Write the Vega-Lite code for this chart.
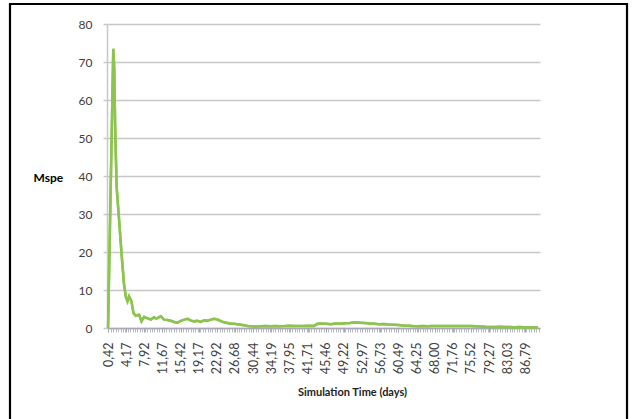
{
  "$schema": "https://vega.github.io/schema/vega-lite/v6.json",
  "autosize": {"type": "none"},
  "padding": {"left": 10, "top": 4, "right": 8, "bottom": 0},
  "width": 617,
  "height": 420,
  "background": "white",
  "config": {
    "view": {"stroke": "black", "strokeWidth": 2.2},
    "font": "Lato"
  },
  "data": {
    "values": [
      {"day": 0.42, "mspe": 0}, {"day": 1.5, "mspe": 73.5}, {"day": 1.7, "mspe": 68}, {"day": 1.9, "mspe": 52},
      {"day": 2.2, "mspe": 37}, {"day": 2.7, "mspe": 28.5}, {"day": 3.2, "mspe": 19.7}, {"day": 3.7, "mspe": 11.8},
      {"day": 4.08, "mspe": 8.3}, {"day": 4.44, "mspe": 7.0}, {"day": 4.77, "mspe": 8.3}, {"day": 5.26, "mspe": 7.0},
      {"day": 5.68, "mspe": 3.9}, {"day": 6.15, "mspe": 3.2}, {"day": 6.5, "mspe": 3.4}, {"day": 6.84, "mspe": 3.5},
      {"day": 7.33, "mspe": 1.75}, {"day": 7.87, "mspe": 2.9}, {"day": 8.2, "mspe": 2.7}, {"day": 8.58, "mspe": 2.6},
      {"day": 9.26, "mspe": 2.2}, {"day": 9.94, "mspe": 2.8}, {"day": 10.3, "mspe": 2.5}, {"day": 10.65, "mspe": 2.6},
      {"day": 11.0, "mspe": 2.9}, {"day": 11.33, "mspe": 3.1}, {"day": 12.0, "mspe": 2.2}, {"day": 12.7, "mspe": 2.1},
      {"day": 13.4, "mspe": 1.9}, {"day": 14.1, "mspe": 1.6}, {"day": 14.8, "mspe": 1.4}, {"day": 15.5, "mspe": 1.9},
      {"day": 16.2, "mspe": 2.2}, {"day": 16.9, "mspe": 2.4}, {"day": 17.5, "mspe": 2.0}, {"day": 18.2, "mspe": 1.75},
      {"day": 18.9, "mspe": 1.9}, {"day": 19.6, "mspe": 1.6}, {"day": 20.3, "mspe": 2.0}, {"day": 21.0, "mspe": 1.9},
      {"day": 21.7, "mspe": 2.2}, {"day": 22.4, "mspe": 2.45}, {"day": 23.1, "mspe": 2.2}, {"day": 23.8, "mspe": 1.8},
      {"day": 24.4, "mspe": 1.5}, {"day": 25.1, "mspe": 1.3}, {"day": 25.8, "mspe": 1.1}, {"day": 26.5, "mspe": 1.1},
      {"day": 27.2, "mspe": 1.0}, {"day": 27.9, "mspe": 0.85}, {"day": 28.6, "mspe": 0.7}, {"day": 29.3, "mspe": 0.55},
      {"day": 30.0, "mspe": 0.45}, {"day": 31, "mspe": 0.4}, {"day": 32, "mspe": 0.45}, {"day": 33, "mspe": 0.5},
      {"day": 34, "mspe": 0.45}, {"day": 35, "mspe": 0.55}, {"day": 36, "mspe": 0.45}, {"day": 37, "mspe": 0.5},
      {"day": 38, "mspe": 0.6}, {"day": 39, "mspe": 0.5}, {"day": 40, "mspe": 0.55}, {"day": 41, "mspe": 0.5},
      {"day": 42, "mspe": 0.6}, {"day": 43, "mspe": 0.55}, {"day": 43.8, "mspe": 1.1}, {"day": 44.5, "mspe": 1.2},
      {"day": 45.5, "mspe": 1.1}, {"day": 46.5, "mspe": 1.0}, {"day": 47.5, "mspe": 1.2}, {"day": 48.5, "mspe": 1.1},
      {"day": 49.5, "mspe": 1.25}, {"day": 50.5, "mspe": 1.3}, {"day": 51.5, "mspe": 1.5}, {"day": 52.5, "mspe": 1.4},
      {"day": 53.5, "mspe": 1.3}, {"day": 54.5, "mspe": 1.2}, {"day": 55.5, "mspe": 1.1}, {"day": 56.5, "mspe": 1.0},
      {"day": 57.5, "mspe": 1.05}, {"day": 58.5, "mspe": 0.9}, {"day": 59.5, "mspe": 0.85}, {"day": 60.5, "mspe": 0.8},
      {"day": 61.5, "mspe": 0.65}, {"day": 62.5, "mspe": 0.6}, {"day": 63.5, "mspe": 0.5}, {"day": 64.5, "mspe": 0.45},
      {"day": 65.5, "mspe": 0.5}, {"day": 66.5, "mspe": 0.45}, {"day": 67.5, "mspe": 0.5}, {"day": 68.5, "mspe": 0.55},
      {"day": 69.5, "mspe": 0.5}, {"day": 70.5, "mspe": 0.5}, {"day": 71.5, "mspe": 0.55}, {"day": 72.5, "mspe": 0.5},
      {"day": 73.5, "mspe": 0.55}, {"day": 74.5, "mspe": 0.5}, {"day": 75.5, "mspe": 0.5}, {"day": 76.5, "mspe": 0.45},
      {"day": 77.5, "mspe": 0.4}, {"day": 78.5, "mspe": 0.3}, {"day": 79.5, "mspe": 0.25}, {"day": 80.5, "mspe": 0.25},
      {"day": 81.5, "mspe": 0.3}, {"day": 82.5, "mspe": 0.25}, {"day": 83.5, "mspe": 0.25}, {"day": 84.5, "mspe": 0.2},
      {"day": 85.5, "mspe": 0.25}, {"day": 86.5, "mspe": 0.2}, {"day": 87.5, "mspe": 0.2}, {"day": 88.5, "mspe": 0.2},
      {"day": 89.4, "mspe": 0.15}
    ]
  },
  "layer": [
    {
      "mark": {"type": "line", "color": "#8dc450", "strokeWidth": 2.5, "clip": false},
      "encoding": {
        "x": {
          "field": "day", "type": "quantitative",
          "scale": {"domain": [0.2, 89.8], "range": [97, 530], "nice": false, "zero": false},
          "axis": {
            "orient": "bottom", "offset": -96, "grid": false, "domain": false,
            "tickCount": 180, "labels": false, "ticks": true, "tickSize": 4, "tickColor": "#b8b8c8", "tickWidth": 1,
            "title": null
          }
        },
        "y": {
          "field": "mspe", "type": "quantitative",
          "scale": {"domain": [0, 80], "range": [324, 20], "nice": false, "zero": true},
          "axis": {
            "orient": "left", "offset": -97,
            "values": [0, 10, 20, 30, 40, 50, 60, 70, 80],
            "grid": true, "gridColor": "#c8c8c8", "gridWidth": 1.5,
            "domain": true, "domainColor": "#c8c8c8", "domainWidth": 1.5,
            "ticks": true, "tickSize": 4, "tickColor": "#c8c8c8", "tickWidth": 1.5,
            "labelFont": "Lato", "labelFontSize": 12, "labelColor": "#404040", "labelPadding": 11,
            "title": "Mspe", "titleAngle": 0, "titleX": -74, "titleY": 173,
            "titleAlign": "left", "titleBaseline": "middle",
            "titleFont": "Lato", "titleFontSize": 12, "titleFontWeight": "bold", "titleColor": "black"
          }
        }
      }
    },
    {
      "mark": {"type": "line", "color": "#8dc450", "strokeWidth": 2.5, "clip": false},
      "encoding": {
        "x": {
          "field": "day", "type": "quantitative",
          "axis": {
            "orient": "bottom", "offset": -96, "grid": false,
            "domain": true, "domainColor": "#a8a8b4", "domainWidth": 1.5,
            "values": [0.42, 4.17, 7.92, 11.67, 15.42, 19.17, 22.92, 26.68, 30.44, 34.19, 37.95, 41.71, 45.46, 49.22, 52.97, 56.73, 60.49, 64.25, 68.0, 71.76, 75.52, 79.27, 83.03, 86.79],
            "labelExpr": "replace(format(datum.value, '.2f'), '.', ',')",
            "labelAngle": 270, "labelAlign": "right", "labelBaseline": "middle",
            "labelFont": "Lato", "labelFontSize": 12.5, "labelColor": "#404040", "labelPadding": 10,
            "labelOverlap": false, "labelBound": false, "labelFlush": false,
            "ticks": true, "tickSize": 4, "tickColor": "#a8a8b4",
            "title": "Simulation Time (days)", "titleX": 342, "titleY": 64,
            "titleAlign": "center", "titleBaseline": "middle",
            "titleFont": "Lato", "titleFontSize": 11, "titleFontWeight": "bold", "titleColor": "#222222"
          }
        },
        "y": {"field": "mspe", "type": "quantitative"}
      }
    }
  ],
  "resolve": {"axis": {"x": "independent"}}
}
